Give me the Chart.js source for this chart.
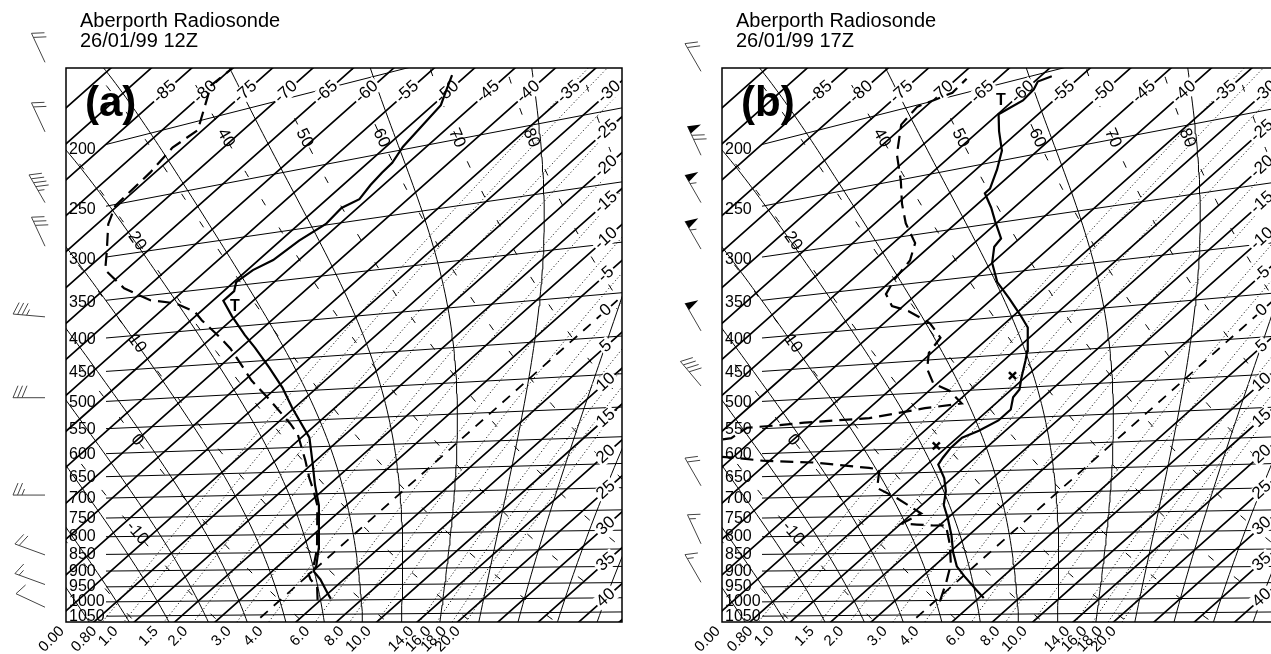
<!DOCTYPE html>
<html>
<head>
<meta charset="utf-8">
<script src="https://cdn.jsdelivr.net/npm/chart.js@4.4.0/dist/chart.umd.min.js"></script>
<style>
  html, body { margin: 0; padding: 0; background: #fff; overflow: hidden; width: 1271px; height: 654px; }
  .panel { position: absolute; top: 0; width: 656px; height: 654px; }
  #pa { left: 0; }
  #pb { left: 656px; }
</style>
</head>
<body>
<div class="panel" id="pa"><canvas id="chartA" width="656" height="654"></canvas></div>
<div class="panel" id="pb"><canvas id="chartB" width="656" height="654"></canvas></div>
<script>
// ---- diagram grid levels ----
var isobarLevels = [1050, 1000, 950, 900, 850, 800, 750, 700, 650, 600, 550, 500, 450, 400, 350, 300, 250, 200];
var isothermLevels = [-95, -90, -85, -80, -75, -70, -65, -60, -55, -50, -45, -40, -35, -30, -25, -20, -15, -10, -5, 0, 5, 10, 15, 20, 25, 30, 35, 40, 45];
var isothermTopLabels = [-85, -80, -75, -70, -65, -60, -55, -50, -45, -40, -35, -30];
var isothermSideLabels = [-25, -20, -15, -10, -5, 0, 5, 10, 15, 20, 25, 30, 35, 40];
var dryAdiabatLevels = [-30, -20, -10, 0, 10, 20, 30, 40, 50, 60, 70, 80, 90, 100, 110];
var thetaTopLabels = [40, 50, 60, 70, 80];
var thetaSideLabels = [-10, 0, 10, 20];
var satAdiabatLevels = [-25, -20, -15, -10, -5, 0, 5, 10, 15, 20, 25, 30, 35, 40, 45];
var mixingRatioLevels = [0.8, 1.0, 1.5, 2.0, 3.0, 4.0, 6.0, 8.0, 10.0, 14.0, 16.0, 18.0, 20.0];
var mixingRatioLabels = ['0.80', '1.0', '1.5', '2.0', '3.0', '4.0', '6.0', '8.0', '10.0', '14.0', '16.0', '18.0', '20.0'];

// ---- (a) 26/01/99 12Z sounding ----
var presA = [996, 975, 932, 906, 890, 840, 785, 727, 680, 628, 582, 527, 493, 461, 431, 412, 386, 366, 356, 346, 335, 327, 311, 299, 287, 282, 272, 264, 258, 248, 226, 219, 210];
var tempA = [6.1, 4.8, 2.1, 0.1, -0.3, -2.4, -5.2, -8.4, -11.7, -15.4, -19.0, -25.3, -29.3, -33.7, -38.2, -41.3, -45.5, -48.7, -48.7, -49.7, -49.3, -48.2, -47.7, -46.7, -47.0, -46.0, -46.6, -46.9, -47.0, -47.9, -49.0, -50.2, -51.8];
var presDewA = [999, 955, 932, 915, 906, 840, 785, 727, 690, 664, 627, 575, 555, 511, 479, 446, 429, 411, 388, 376, 363, 356, 338, 314, 294, 267, 251, 242, 229, 214, 206, 180, 165];
var dewA = [4.6, 2.7, 0.9, -0.1, 0.0, -2.6, -5.4, -8.6, -11.3, -13.4, -16.3, -20.9, -23.3, -29.3, -34.1, -38.7, -41.2, -44.3, -48.6, -50.7, -54.3, -57.8, -62.7, -67.6, -70.0, -73.6, -75.3, -75.4, -75.6, -76.3, -75.6, -80.2, -79.5];
var tropoA = { p: 375, t: -46.4 };

// ---- (b) 26/01/99 17Z sounding ----
var presB = [993, 965, 922, 891, 849, 803, 758, 725, 692, 663, 634, 620, 600, 582, 570, 553, 535, 515, 503, 485, 460, 447, 416, 400, 379, 359, 338, 322, 315, 298, 286, 273, 270, 256, 243, 229, 218, 213, 208, 204, 203];
var tempB = [5.6, 3.5, 0.2, -2.15, -4.6, -7.1, -9.95, -12.3, -14.0, -16.0, -18.6, -19.0, -19.4, -19.4, -18.3, -17.3, -17.3, -18.7, -19.0, -20.4, -22.3, -23.4, -26.6, -29.2, -32.9, -36.7, -40.0, -42.0, -42.3, -45.5, -47.8, -50.6, -50.6, -52.4, -54.4, -57.5, -59.9, -58.8, -59.0, -59.6, -58.6];
var presDewB = [1002, 941, 884, 825, 776, 776, 773, 770, 745, 707, 682, 641, 637, 622, 615, 607, 595, 575, 566, 547, 545, 542, 539, 526, 521, 499, 486, 463, 440, 420, 400, 382, 374, 359, 343, 325, 308, 288, 270, 251, 230, 210, 201, 198, 192];
var dewB = [0.6, -1.2, -3.2, -6.2, -9.2, -10.7, -12.9, -14.9, -13.9, -19.0, -22.9, -25.2, -26.7, -34.4, -40.9, -44.6, -52, -52, -47.9, -47.4, -44.0, -41.0, -33.6, -28.1, -24.2, -27.5, -30.5, -33.3, -35.3, -36.0, -39.3, -43.7, -46.4, -48.8, -49.8, -50.5, -52.3, -56.2, -59.4, -62.7, -66.9, -70.5, -71.0, -68.6, -68.8];
var tropoB = { p: 210, t: -61.5 };
var crossPresB = [481, 596];
var crossTempB = [-21.8, -21.45];

// ---- wind barbs: pressure, direction (deg), speed (kt) ----
var barbPresA = [145, 188, 244, 286, 369, 492, 692, 851, 942, 1018];
var barbDirA = [335, 335, 330, 335, 275, 270, 270, 290, 290, 295];
var barbSpdA = [20, 20, 45, 30, 35, 30, 25, 20, 15, 10];
var barbPresB = [150, 205, 244, 289, 388, 472, 670, 819, 935];
var barbDirB = [330, 335, 330, 330, 330, 320, 330, 335, 330];
var barbSpdB = [20, 70, 55, 55, 50, 40, 20, 15, 15];

// ---- projection of (pressure, temperature) onto the diagram plane ----
function project(p, t) {
  var l = Math.log(1000 / p);
  var s = 0.008 + 0.095 * l * l;
  var b = 20 + (293 - 7 * l) * l;
  var X = (b - 24 * s + 168.5 + 7.185 * t) / (0.889 - s);
  return { x: X, y: b + s * (X - 24) };
}
function tempAtX(p, X) {
  var l = Math.log(1000 / p);
  var s = 0.008 + 0.095 * l * l;
  var b = 20 + (293 - 7 * l) * l;
  return (X * (0.889 - s) - b + 24 * s - 168.5) / 7.185;
}
function esat(tc) { return 6.112 * Math.exp(17.67 * tc / (tc + 243.5)); }
function dryT(theta, p) { return (theta + 273.15) * Math.pow(p / 1000, 0.2857) - 273.15; }
function mixT(w, p) {
  var e = w * p / (622 + w);
  var g = Math.log(e / 6.112);
  return 243.5 * g / (17.67 - g);
}
function moistLapse(p, tc) {
  var T = tc + 273.15, e = esat(tc), r = 0.622 * e / (p - e);
  var L = 2.501e6, Rd = 287.04, cp = 1005.7;
  return (Rd * T + L * r) / (cp + L * L * r * 0.622 / (Rd * T * T));
}
function satCurve(thw) {
  var up = [], down = [], h = 0.005, lp, t, i;
  t = thw; lp = Math.log(1000);
  for (i = 0; i < 420; i++) {
    if (i % 4 === 0) up.push({ p: Math.exp(lp), t: t });
    var k1 = moistLapse(Math.exp(lp), t);
    var k2 = moistLapse(Math.exp(lp - h), t - h * k1);
    t -= h * (k1 + k2) / 2; lp -= h;
  }
  t = thw; lp = Math.log(1000);
  for (i = 0; i < 24; i++) {
    var m1 = moistLapse(Math.exp(lp), t);
    var m2 = moistLapse(Math.exp(lp + h), t + h * m1);
    t += h * (m1 + m2) / 2; lp += h;
    if (i % 4 === 3) down.unshift({ p: Math.exp(lp), t: t });
  }
  return down.concat(up);
}
function logPres(n) {
  var out = [];
  for (var i = 0; i <= n; i++) out.push(1150 * Math.pow(120 / 1150, i / n));
  return out;
}
function joined(lines) {
  var out = [];
  lines.forEach(function (ln) { ln.forEach(function (q) { out.push(project(q.p, q.t)); }); out.push({ x: null, y: null }); });
  return out;
}
function findOnCurve(fnT, target, axis) {
  var lo = Math.log(120), hi = Math.log(1150);
  var vlo = project(Math.exp(lo), fnT(Math.exp(lo)))[axis];
  for (var i = 0; i < 60; i++) {
    var mid = (lo + hi) / 2, v = project(Math.exp(mid), fnT(Math.exp(mid)))[axis];
    if ((v - target) * (vlo - target) > 0) { lo = mid; vlo = v; } else { hi = mid; }
  }
  var p = Math.exp((lo + hi) / 2);
  return { p: p, pt: project(p, fnT(p)) };
}

var PL = logPres(60);
var isothermLines = isothermLevels.filter(function (t) { return t !== 0; }).map(function (t) {
  return [{ p: 1150, t: t }, { p: 120, t: t }];
});
var zeroLine = [[{ p: 1150, t: 0 }, { p: 120, t: 0 }]];
var isobarLines = isobarLevels.map(function (p) {
  var pts = [];
  for (var X = 40; X <= 620; X += 20) pts.push({ p: p, t: tempAtX(p, X) });
  return pts;
});
var dryLines = dryAdiabatLevels.map(function (th) { return PL.map(function (p) { return { p: p, t: dryT(th, p) }; }); });
var satLines = satAdiabatLevels.map(satCurve);
var mixLines = mixingRatioLevels.map(function (w) { return PL.map(function (p) { return { p: p, t: mixT(w, p) }; }); });

function profile(pres, temps) { return pres.map(function (p, i) { return project(p, temps[i]); }); }

var FONT = '"Liberation Sans", Arial, Helvetica, sans-serif';

function rotText(ctx, txt, x, y, ang, align, bg) {
  ctx.save();
  ctx.translate(x, y); ctx.rotate(ang);
  ctx.textAlign = align || 'center'; ctx.textBaseline = 'middle';
  if (bg) {
    var w = ctx.measureText(txt).width;
    ctx.fillStyle = '#fff'; ctx.fillRect(-w / 2 - 2, -8, w + 4, 16);
  }
  ctx.fillStyle = '#000';
  ctx.fillText(txt, 0, 0);
  ctx.restore();
}

function drawBarb(ctx, x, y, dir, spd) {
  var a = dir * Math.PI / 180, dx = Math.sin(a), dy = -Math.cos(a), fx = -dy, fy = dx;
  var len = 32, pos = len, rest = Math.round(spd / 5) * 5;
  ctx.beginPath(); ctx.moveTo(x, y); ctx.lineTo(x + dx * len, y + dy * len); ctx.stroke();
  while (rest >= 50) {
    var bx = x + dx * pos, by = y + dy * pos;
    ctx.beginPath(); ctx.moveTo(bx, by);
    ctx.lineTo(bx + fx * 13 - dx * 4, by + fy * 13 - dy * 4);
    ctx.lineTo(bx - dx * 8, by - dy * 8); ctx.closePath(); ctx.fill();
    pos -= 10; rest -= 50;
  }
  while (rest >= 10) {
    var cx = x + dx * pos, cy = y + dy * pos;
    ctx.beginPath(); ctx.moveTo(cx, cy); ctx.lineTo(cx + fx * 12 - dx * 5, cy + fy * 12 - dy * 5); ctx.stroke();
    pos -= 4.5; rest -= 10;
  }
  if (rest >= 5) {
    if (pos === len) pos -= 4.5;
    var hx = x + dx * pos, hy = y + dy * pos;
    ctx.beginPath(); ctx.moveTo(hx, hy); ctx.lineTo(hx + fx * 6 - dx * 2.5, hy + fy * 6 - dy * 2.5); ctx.stroke();
  }
}

function makeDecor(cfg) {
  return {
    id: 'decor',
    beforeDatasetDraw: function (chart, args) {
      if (chart.data.datasets[args.index].id !== 'dew') return;
      var ctx = chart.ctx, xs = chart.scales.x, ys = chart.scales.y;
      var isoAng = -Math.atan(0.889);
      ctx.save();
      ctx.font = '17px ' + FONT;
      isothermTopLabels.forEach(function (t) {
        var r = findOnCurve(function () { return t; }, 530, 'y');
        rotText(ctx, String(t), xs.getPixelForValue(r.pt.x), ys.getPixelForValue(r.pt.y), isoAng, 'center', true);
      });
      isothermSideLabels.forEach(function (t) {
        var r = findOnCurve(function () { return t; }, 540, 'x');
        rotText(ctx, String(t), xs.getPixelForValue(r.pt.x), ys.getPixelForValue(r.pt.y), isoAng, 'center', true);
      });
      function thetaLabel(th, target, axis) {
        var f = function (p) { return dryT(th, p); };
        var r = findOnCurve(f, target, axis);
        var q = project(r.p * 1.03, f(r.p * 1.03));
        var x0 = xs.getPixelForValue(r.pt.x), y0 = ys.getPixelForValue(r.pt.y);
        var ang = Math.atan2(ys.getPixelForValue(q.y) - y0, xs.getPixelForValue(q.x) - x0);
        rotText(ctx, String(th), x0, y0, ang, 'center', false);
      }
      thetaTopLabels.forEach(function (th) { thetaLabel(th, 484, 'y'); });
      thetaSideLabels.forEach(function (th) { thetaLabel(th, 71, 'x'); });
      ctx.font = '16px ' + FONT;
      ctx.textAlign = 'left'; ctx.textBaseline = 'middle'; ctx.fillStyle = '#000';
      isobarLevels.forEach(function (p) {
        var Y = project(p, tempAtX(p, 20)).y;
        ctx.fillText(String(p), xs.getPixelForValue(3), ys.getPixelForValue(Y));
      });
      ctx.restore();
    },
    afterDraw: function (chart) {
      var ctx = chart.ctx, a = chart.chartArea, xs = chart.scales.x, ys = chart.scales.y;
      ctx.save();
      ctx.strokeStyle = '#000'; ctx.lineWidth = 1.5;
      ctx.strokeRect(a.left, a.top, a.right - a.left, a.bottom - a.top);
      ctx.fillStyle = '#000';
      ctx.font = '20px ' + FONT; ctx.textAlign = 'left'; ctx.textBaseline = 'alphabetic';
      ctx.fillText('Aberporth Radiosonde', a.left + 14, 27);
      ctx.fillText(cfg.time, a.left + 14, 47);
      ctx.font = 'bold 42px ' + FONT;
      ctx.fillText(cfg.letter, a.left + 19, 116);
      // mixing ratio labels under the frame
      ctx.font = '15px ' + FONT;
      mixingRatioLevels.forEach(function (w, i) {
        var r = findOnCurve(function (p) { return mixT(w, p); }, 0, 'y');
        rotText(ctx, mixingRatioLabels[i], xs.getPixelForValue(r.pt.x) - 8, a.bottom + 7, -Math.PI / 4, 'right', false);
      });
      rotText(ctx, '0.00', xs.getPixelForValue(-4), a.bottom + 7, -Math.PI / 4, 'right', false);
      // tropopause marker
      ctx.font = 'bold 16px ' + FONT;
      var tp = project(cfg.tropo.p, cfg.tropo.t);
      ctx.textAlign = 'center'; ctx.textBaseline = 'middle';
      ctx.fillText('T', xs.getPixelForValue(tp.x), ys.getPixelForValue(tp.y));
      // wind barbs
      ctx.strokeStyle = '#444'; ctx.fillStyle = '#000'; ctx.lineWidth = 1;
      cfg.barbP.forEach(function (p, i) {
        var Y = project(p, tempAtX(p, 24)).y;
        drawBarb(ctx, xs.getPixelForValue(-21), ys.getPixelForValue(Y), cfg.barbD[i], cfg.barbS[i]);
      });
      ctx.restore();
    }
  };
}

function gridSet(lines, width, dash, color) {
  return { data: joined(lines), showLine: true, pointRadius: 0, borderColor: color || '#000', borderWidth: width,
    borderDash: dash || [], tension: 0, clip: 0, order: 5, spanGaps: false };
}

function buildChart(id, cfg) {
  var datasets = [
    { id: 'temp', data: profile(cfg.pT, cfg.tT), showLine: true, pointRadius: 0, borderColor: '#000', borderWidth: 2.2, tension: 0, clip: 0, order: 0 },
    { id: 'dew', data: profile(cfg.pD, cfg.tD), showLine: true, pointRadius: 0, borderColor: '#000', borderWidth: 2.2, borderDash: [13, 7], tension: 0, clip: 0, order: 1 },
    gridSet(mixLines, 1.0, [1, 2.5], '#000'),
    gridSet(dryLines, 1.0, [7, 26], '#000'),
    gridSet(satLines, 1.0, [], '#000'),
    gridSet(isobarLines, 1.0, [], '#000'),
    gridSet(zeroLine, 1.8, [10, 8], '#000'),
    gridSet(isothermLines, 1.7, [], '#000')
  ];
  if (cfg.crossP) {
    datasets.push({ id: 'cross', data: profile(cfg.crossP, cfg.crossT), showLine: false, pointStyle: 'crossRot',
      pointRadius: 5, borderColor: '#000', borderWidth: 2.5, clip: 0, order: 0 });
  }
  return new Chart(document.getElementById(id), {
    type: 'scatter',
    data: { datasets: datasets },
    options: {
      responsive: false, animation: false, events: [],
      layout: { padding: { left: 66, right: 34, top: 68, bottom: 32 } },
      scales: {
        x: { type: 'linear', min: 0, max: 556, display: false },
        y: { type: 'linear', min: 0, max: 554, display: false }
      },
      plugins: { legend: { display: false }, tooltip: { enabled: false } }
    },
    plugins: [makeDecor(cfg)]
  });
}

buildChart('chartA', { time: '26/01/99 12Z', letter: '(a)', pT: presA, tT: tempA, pD: presDewA, tD: dewA,
  tropo: tropoA, barbP: barbPresA, barbD: barbDirA, barbS: barbSpdA });
buildChart('chartB', { time: '26/01/99 17Z', letter: '(b)', pT: presB, tT: tempB, pD: presDewB, tD: dewB,
  tropo: tropoB, barbP: barbPresB, barbD: barbDirB, barbS: barbSpdB, crossP: crossPresB, crossT: crossTempB });
</script>
</body>
</html>
